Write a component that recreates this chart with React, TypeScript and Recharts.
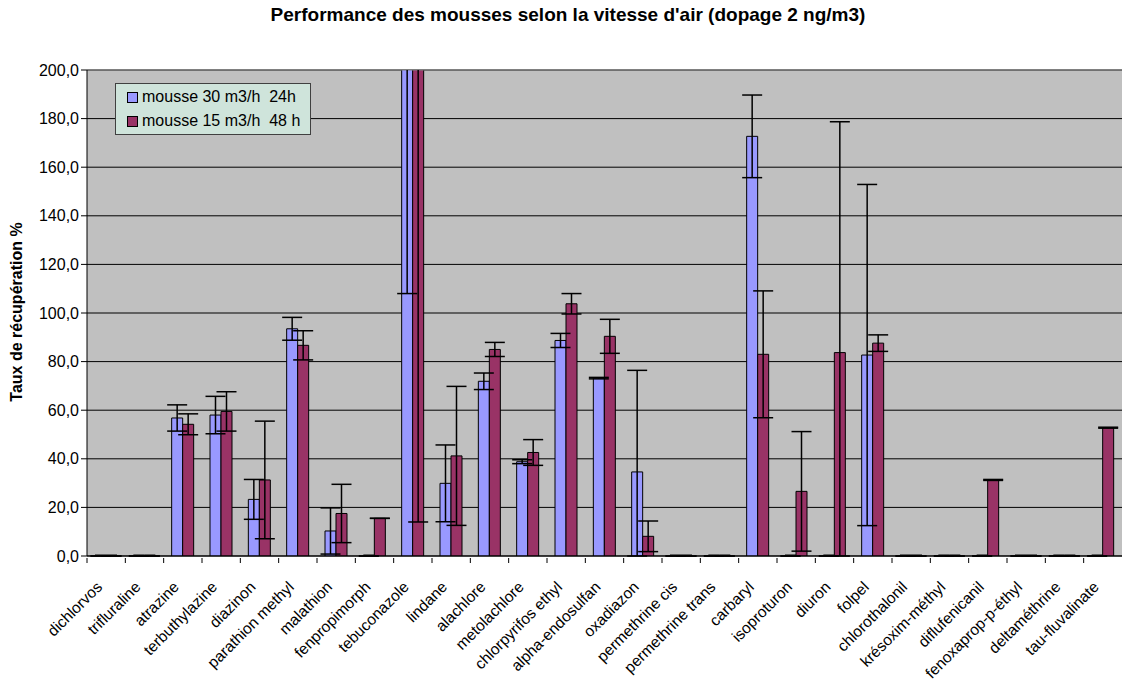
import { BarChart, Bar, XAxis, YAxis, CartesianGrid, ErrorBar, ReferenceLine } from "recharts";

const categories = [
    "dichlorvos", "trifluraline", "atrazine", "terbuthylazine", "diazinon",
    "parathion methyl", "malathion", "fenpropimorph", "tebuconazole", "lindane",
    "alachlore", "metolachlore", "chlorpyrifos ethyl", "alpha-endosulfan", "oxadiazon",
    "permethrine cis", "permethrine trans", "carbaryl", "isoproturon", "diuron",
    "folpel", "chlorothalonil", "krésoxim-méthyl", "diflufenicanil", "fenoxaprop-p-éthyl",
    "deltaméthrine", "tau-fluvalinate",
];

// mousse 30 m3/h 24h
const mousse30 = [0, 0, 56.8, 58.0, 23.3, 93.5, 10.3, 0, 250, 29.9, 71.9, 38.8, 88.7, 73.2, 34.6, 0, 0, 172.7, 0, 0, 82.7, 0, 0, 0, 0, 0, 0];
const mousse30Err = [0, 0, 5.4, 7.7, 8.2, 4.7, 9.5, 0, 142, 15.8, 3.4, 0.8, 2.9, 0.3, 41.8, 0, 0, 17.0, 0, 0, 70.2, 0, 0, 0, 0, 0, 0];

// mousse 15 m3/h 48 h
const mousse15 = [0, 0, 54.2, 59.5, 31.3, 86.7, 17.5, 15.5, 235, 41.2, 85.0, 42.6, 103.8, 90.4, 8.1, 0, 0, 83.0, 26.6, 83.7, 87.6, 0, 0, 31.3, 0, 0, 52.8];
const mousse15Err = [0, 0, 4.3, 8.1, 24.2, 6.0, 12.0, 0, 221, 28.6, 2.9, 5.3, 4.2, 7.0, 6.3, 0, 0, 26.1, 24.6, 95.0, 3.4, 0, 0, 0.2, 0, 0, 0.2];

const yTicks = [0, 20, 40, 60, 80, 100, 120, 140, 160, 180, 200];

const data = categories.map((name, i) => ({
    name,
    m30: mousse30[i],
    m15: mousse15[i],
    // lower part of the error bar stops at the axis, like in Excel
    m30Err: [Math.min(mousse30Err[i], mousse30[i]), mousse30Err[i]],
    m15Err: [Math.min(mousse15Err[i], mousse15[i]), mousse15Err[i]],
}));

const FONT = "'Liberation Sans', Arial, sans-serif";
const W = 1122;
const H = 684;
const TOP = 70;
const AXIS_W = 87;
const BAND = (W - AXIS_W) / categories.length;

const CategoryTick = (props: any) => {
    const { x, y, payload } = props;
    const lx = x - 3;
    const ly = y + 30;
    return (
        <g>
            <line x1={x - BAND / 2} y1={y} x2={x - BAND / 2} y2={y + 5} stroke="#000" />
            <text
                x={lx}
                y={ly}
                textAnchor="end"
                fontSize={15.5}
                fontFamily={FONT}
                fill="#000"
                transform={`rotate(-45, ${lx}, ${ly})`}
            >
                {payload.value}
            </text>
        </g>
    );
};

const App = () => {
    return (
        <div style={{ position: "absolute", left: 0, top: 0, width: W, height: H, background: "#fff", fontFamily: FONT }}>
            {/* error bars that run past 200 are cut at the plot top */}
            <style>{`.recharts-errorBar { clip-path: url(#plotTopClip); }`}</style>
            <svg width={0} height={0} style={{ position: "absolute" }}>
                <defs>
                    <clipPath id="plotTopClip" clipPathUnits="userSpaceOnUse">
                        <rect x={0} y={TOP} width={W} height={H - TOP} />
                    </clipPath>
                </defs>
            </svg>

            {/* Title */}
            <div
                style={{
                    position: "absolute",
                    left: 568,
                    top: 5,
                    transform: "translateX(-50%)",
                    whiteSpace: "nowrap",
                    fontSize: 19,
                    fontWeight: "bold",
                    lineHeight: "20px",
                }}
            >
                Performance des mousses selon la vitesse d'air (dopage 2 ng/m3)
            </div>

            {/* Y axis title */}
            <div
                style={{
                    position: "absolute",
                    left: 17,
                    top: 312,
                    transform: "translate(-50%, -50%) rotate(-90deg)",
                    whiteSpace: "nowrap",
                    fontSize: 16,
                    fontWeight: "bold",
                }}
            >
                Taux de récupération %
            </div>

            <BarChart
                width={W}
                height={H}
                data={data}
                margin={{ top: TOP, right: 0, bottom: 0, left: 0 }}
                barGap={0}
                barSize={11}
            >
                <CartesianGrid vertical={false} stroke="#000" fill="#C0C0C0" fillOpacity={1} />
                <XAxis
                    dataKey="name"
                    height={128}
                    interval={0}
                    tickSize={0}
                    tickLine={false}
                    axisLine={{ stroke: "#000" }}
                    tick={<CategoryTick />}
                />
                <YAxis
                    width={AXIS_W}
                    domain={[0, 200]}
                    ticks={yTicks}
                    allowDataOverflow
                    tickSize={6}
                    tickLine={{ stroke: "#000" }}
                    axisLine={{ stroke: "#000" }}
                    tick={{ fontSize: 16, fill: "#000", fontFamily: FONT }}
                    tickFormatter={(v: number) => v.toFixed(1).replace(".", ",")}
                />
                <ReferenceLine y={200} stroke="#808080" />
                <Bar dataKey="m30" fill="#9999FF" stroke="#000" strokeWidth={1} minPointSize={1} isAnimationActive={false}>
                    <ErrorBar dataKey="m30Err" width={10} stroke="#000" strokeWidth={1.5} direction="y" />
                </Bar>
                <Bar dataKey="m15" fill="#993366" stroke="#000" strokeWidth={1} minPointSize={1} isAnimationActive={false}>
                    <ErrorBar dataKey="m15Err" width={10} stroke="#000" strokeWidth={1.5} direction="y" />
                </Bar>
            </BarChart>

            {/* Legend */}
            <div
                style={{
                    position: "absolute",
                    left: 115,
                    top: 83,
                    width: 194,
                    height: 49,
                    background: "#CFE4DB",
                    border: "1px solid #404040",
                    fontSize: 16,
                    lineHeight: "24px",
                    paddingTop: 1,
                    boxSizing: "content-box",
                }}
            >
                {[
                    { label: "mousse 30 m3/h  24h", color: "#9999FF" },
                    { label: "mousse 15 m3/h  48 h", color: "#993366" },
                ].map((item) => (
                    <div key={item.label} style={{ display: "flex", alignItems: "center", paddingLeft: 11, whiteSpace: "pre" }}>
                        <span
                            style={{
                                display: "inline-block",
                                width: 9,
                                height: 9,
                                background: item.color,
                                border: "1px solid #000",
                                marginRight: 4,
                            }}
                        />
                        {item.label}
                    </div>
                ))}
            </div>
        </div>
    );
};

export default App;
